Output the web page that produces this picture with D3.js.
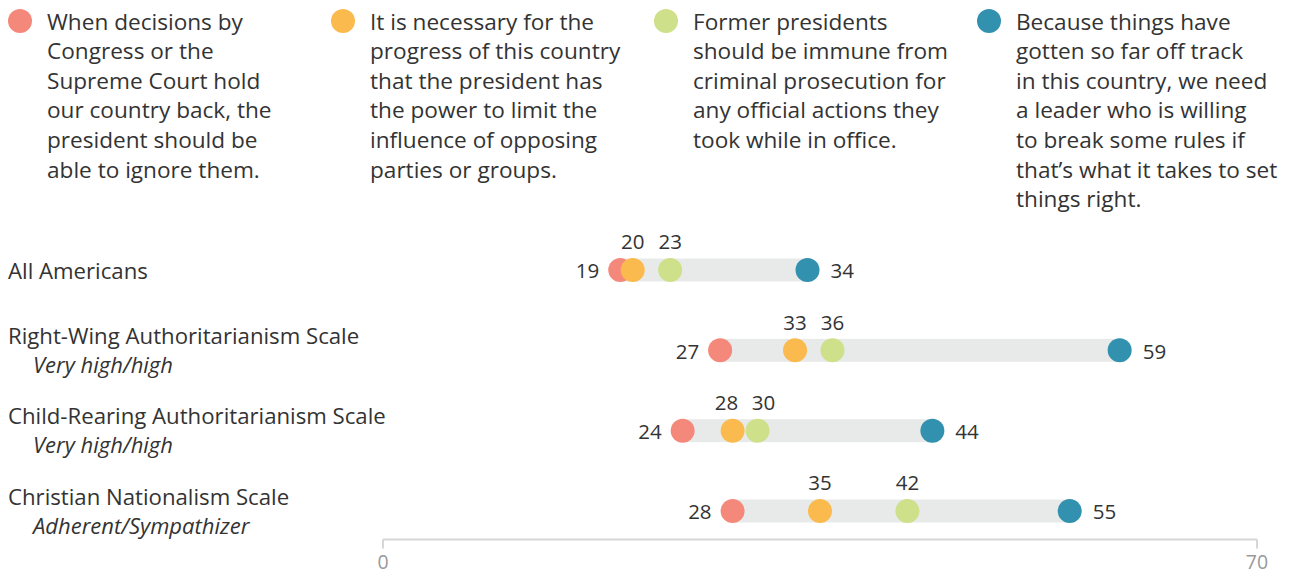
<!DOCTYPE html>
<html>
<head>
<meta charset="utf-8">
<script src="https://cdn.jsdelivr.net/npm/d3@7"></script>
<style>
  html, body { margin: 0; padding: 0; background: #fff; }
  svg { display: block; font-family: "Open Sans", sans-serif; }
</style>
</head>
<body>
<svg id="chart" width="1292" height="575"></svg>
<script>
// Statement keys, colours and wrapped legend text
const statements = ["ignoreCourts", "limitOpposition", "immunity", "breakRules"];
const statementColors = ["#f4897b", "#fbba4d", "#cfe08a", "#3191af"];
const statementLines = [
  ["When decisions by", "Congress or the", "Supreme Court hold", "our country back, the", "president should be", "able to ignore them."],
  ["It is necessary for the", "progress of this country", "that the president has", "the power to limit the", "influence of opposing", "parties or groups."],
  ["Former presidents", "should be immune from", "criminal prosecution for", "any official actions they", "took while in office."],
  ["Because things have", "gotten so far off track", "in this country, we need", "a leader who is willing", "to break some rules if", "that\u2019s what it takes to set", "things right."]
];

// Groups and their subtitles
const groups = ["All Americans", "Right-Wing Authoritarianism Scale", "Child-Rearing Authoritarianism Scale", "Christian Nationalism Scale"];
const groupSubtitles = ["", "Very high/high", "Very high/high", "Adherent/Sympathizer"];

// Percent agreeing, one array per statement (in group order)
const ignoreCourts    = [19, 27, 24, 28];
const limitOpposition = [20, 33, 28, 35];
const immunity        = [23, 36, 30, 42];
const breakRules      = [34, 59, 44, 55];

const axisTicks = [0, 70];

const series = [ignoreCourts, limitOpposition, immunity, breakRules];
const rows = groups.map((g, i) => ({
  group: g,
  subtitle: groupSubtitles[i],
  values: series.map((s, k) => ({ key: statements[k], value: s[i], color: statementColors[k] }))
}));

const svg = d3.select("#chart");
const x = d3.scaleLinear().domain([0, 70]).range([383, 1257]);
const y = d3.scalePoint().domain(groups).range([270, 511]);
const r = 12;
const textColor = "#333";

// Legend
const legend = svg.append("g");
const legendX = [20, 343, 666, 989];
statementLines.forEach((lines, k) => {
  const g = legend.append("g").attr("transform", `translate(${legendX[k]},0)`);
  g.append("circle").attr("cx", 0).attr("cy", 21).attr("r", 12).attr("fill", statementColors[k]);
  const t = g.append("text").attr("font-size", 22.6).attr("fill", textColor);
  lines.forEach((ln, j) => {
    t.append("tspan").attr("x", 27).attr("y", 29.5 + j * 29.6).text(ln);
  });
});

// Row labels
const labels = svg.append("g");
rows.forEach(d => {
  const cy = y(d.group);
  if (d.subtitle) {
    labels.append("text").attr("x", 8).attr("y", cy - 14).attr("dy", "0.35em")
      .attr("font-size", 22.2).attr("fill", textColor).text(d.group);
    labels.append("text").attr("x", 33).attr("y", cy + 15).attr("dy", "0.35em")
      .attr("font-size", 22).attr("font-style", "italic").attr("fill", textColor).text(d.subtitle);
  } else {
    labels.append("text").attr("x", 8).attr("y", cy + 1).attr("dy", "0.35em")
      .attr("font-size", 22.2).attr("fill", textColor).text(d.group);
  }
});

// Range bars
const plot = svg.append("g");
plot.selectAll("rect.range").data(rows).join("rect")
  .attr("class", "range")
  .attr("x", d => x(d3.min(d.values, v => v.value)))
  .attr("width", d => x(d3.max(d.values, v => v.value)) - x(d3.min(d.values, v => v.value)))
  .attr("y", d => y(d.group) - 11.5)
  .attr("height", 23)
  .attr("fill", "#e8eaea");

// Dots and value labels; inner labels sit above and are spread apart when crowded
const minGap = 37;
rows.forEach(d => {
  const cy = y(d.group);
  const vals = d.values;
  plot.selectAll(null).data(vals).join("circle")
    .attr("cx", v => x(v.value)).attr("cy", cy).attr("r", r)
    .attr("fill", v => v.color);

  const first = vals[0], last = vals[vals.length - 1];
  plot.append("text").attr("font-size", 20.5).attr("fill", textColor)
    .attr("x", x(first.value) - 21).attr("y", cy + 1).attr("dy", "0.36em")
    .attr("text-anchor", "end").text(first.value);
  plot.append("text").attr("font-size", 20.5).attr("fill", textColor)
    .attr("x", x(last.value) + 23).attr("y", cy + 1).attr("dy", "0.36em")
    .attr("text-anchor", "start").text(last.value);

  const inner = vals.slice(1, -1).map(v => ({ v, px: x(v.value) }));
  for (let i = 1; i < inner.length; i++) {
    const gap = inner[i].px - inner[i - 1].px;
    if (gap < minGap) {
      const push = (minGap - gap) / 2;
      inner[i - 1].px -= push;
      inner[i].px += push;
    }
  }
  inner.forEach(o => {
    plot.append("text").attr("font-size", 20.5).attr("fill", textColor)
      .attr("x", o.px).attr("y", cy - 28).attr("dy", "0.36em")
      .attr("text-anchor", "middle").text(o.v.value);
  });
});

// Axis
const axis = svg.append("g").attr("transform", "translate(0,539.5)");
axis.append("line").attr("x1", x(0)).attr("x2", x(70)).attr("y1", 0).attr("y2", 0)
  .attr("stroke", "#d6d6d6").attr("stroke-width", 2);
axis.selectAll("line.tick").data(axisTicks).join("line").attr("class", "tick")
  .attr("x1", d => x(d)).attr("x2", d => x(d)).attr("y1", 0).attr("y2", 9)
  .attr("stroke", "#d6d6d6").attr("stroke-width", 2);
axis.selectAll("text").data(axisTicks).join("text")
  .attr("x", d => x(d)).attr("y", 29.5)
  .attr("text-anchor", "middle").attr("font-size", 19.5).attr("fill", "#999")
  .text(d => d);
</script>
</body>
</html>
